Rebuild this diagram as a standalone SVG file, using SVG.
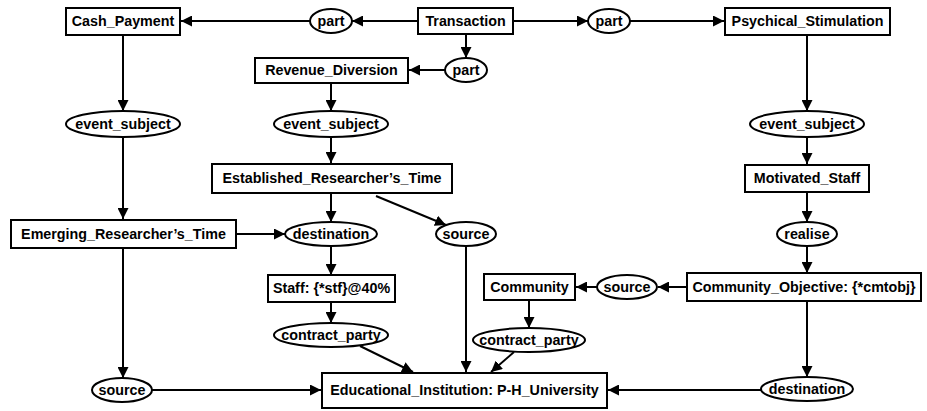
<svg xmlns="http://www.w3.org/2000/svg" width="927" height="411" viewBox="0 0 927 411">
<style>
  .box { fill: #fff; stroke: #000; stroke-width: 2; }
  .ell { fill: #fff; stroke: #000; stroke-width: 2; }
  text { font-family: "Liberation Sans", Arial, Helvetica, sans-serif; font-weight: bold; font-size: 14.3px; text-anchor: middle; fill: #000; }
  .edge { stroke: #000; stroke-width: 2; fill: none; marker-end: url(#arrow); }
</style>
<defs>
  <marker id="arrow" markerUnits="userSpaceOnUse" markerWidth="11" markerHeight="11" refX="11" refY="5.5" orient="auto">
    <path d="M0,0 L11,5.5 L0,11 z" fill="#000"/>
  </marker>
</defs>
<rect width="927" height="411" fill="#fff"/>
<g id="connectors">
  <line class="edge" x1="417" y1="21" x2="352" y2="21"/>
  <line class="edge" x1="310" y1="21" x2="181" y2="21"/>
  <line class="edge" x1="513" y1="21" x2="588" y2="21"/>
  <line class="edge" x1="630" y1="21" x2="724" y2="21"/>
  <line class="edge" x1="466" y1="35" x2="466" y2="58"/>
  <line class="edge" x1="445" y1="70" x2="409" y2="70"/>
  <line class="edge" x1="123" y1="35" x2="123" y2="111"/>
  <line class="edge" x1="331" y1="83" x2="331" y2="111"/>
  <line class="edge" x1="807" y1="35" x2="807" y2="111"/>
  <line class="edge" x1="123" y1="137" x2="123" y2="219"/>
  <line class="edge" x1="331" y1="137" x2="331" y2="163"/>
  <line class="edge" x1="807" y1="137" x2="807" y2="164"/>
  <line class="edge" x1="807" y1="192" x2="807" y2="222"/>
  <line class="edge" x1="331" y1="193" x2="331" y2="222"/>
  <line class="edge" x1="376" y1="196" x2="446" y2="225"/>
  <line class="edge" x1="237" y1="234" x2="285" y2="234"/>
  <line class="edge" x1="331" y1="246" x2="331" y2="275"/>
  <line class="edge" x1="807" y1="246" x2="807" y2="273"/>
  <line class="edge" x1="686" y1="287" x2="658" y2="287"/>
  <line class="edge" x1="597" y1="287" x2="576" y2="287"/>
  <line class="edge" x1="529" y1="300" x2="529" y2="328"/>
  <line class="edge" x1="331" y1="302" x2="331" y2="323"/>
  <line class="edge" x1="360" y1="346" x2="413" y2="372"/>
  <line class="edge" x1="466" y1="246" x2="466" y2="372"/>
  <line class="edge" x1="514" y1="352" x2="491" y2="372"/>
  <line class="edge" x1="123" y1="248" x2="123" y2="378"/>
  <line class="edge" x1="152" y1="390" x2="321" y2="390"/>
  <line class="edge" x1="807" y1="301" x2="807" y2="377"/>
  <line class="edge" x1="761" y1="390" x2="608" y2="390"/>
</g>
<g id="cash_payment"><rect class="box" x="66" y="8" width="114" height="27"/><text x="123" y="26">Cash_Payment</text></g>
<g id="transaction"><rect class="box" x="418" y="8" width="95" height="26"/><text x="465.5" y="26">Transaction</text></g>
<g id="psychical_stimulation"><rect class="box" x="725" y="8" width="165" height="27"/><text x="807.5" y="26">Psychical_Stimulation</text></g>
<g id="part1"><ellipse class="ell" cx="331" cy="21" rx="21" ry="12"/><text x="331" y="26">part</text></g>
<g id="part2"><ellipse class="ell" cx="609" cy="21" rx="21" ry="12"/><text x="609" y="26">part</text></g>
<g id="part3"><ellipse class="ell" cx="466" cy="70" rx="21" ry="12"/><text x="466" y="75">part</text></g>
<g id="revenue_diversion"><rect class="box" x="255" y="58" width="153" height="25"/><text x="331.5" y="75">Revenue_Diversion</text></g>
<g id="event_subject1"><ellipse class="ell" cx="123" cy="124" rx="57" ry="13"/><text x="123" y="129">event_subject</text></g>
<g id="event_subject2"><ellipse class="ell" cx="331" cy="124" rx="57" ry="13"/><text x="331" y="129">event_subject</text></g>
<g id="event_subject3"><ellipse class="ell" cx="807" cy="124" rx="57" ry="13"/><text x="807" y="129">event_subject</text></g>
<g id="established_researchers_time"><rect class="box" x="212" y="164" width="240" height="29"/><text x="332" y="183">Established_Researcher’s_Time</text></g>
<g id="motivated_staff"><rect class="box" x="745" y="165" width="124" height="27"/><text x="807" y="183">Motivated_Staff</text></g>
<g id="emerging_researchers_time"><rect class="box" x="11" y="220" width="225" height="28"/><text x="123.5" y="239">Emerging_Researcher’s_Time</text></g>
<g id="destination1"><ellipse class="ell" cx="331" cy="234" rx="46" ry="12"/><text x="331" y="239">destination</text></g>
<g id="source1"><ellipse class="ell" cx="466" cy="234" rx="30" ry="12"/><text x="466" y="239">source</text></g>
<g id="realise"><ellipse class="ell" cx="807" cy="234" rx="30" ry="12"/><text x="807" y="239">realise</text></g>
<g id="staff"><rect class="box" x="268" y="275" width="127" height="27"/><text x="331.5" y="293">Staff: {*stf}@40%</text></g>
<g id="community"><rect class="box" x="484" y="274" width="91" height="26"/><text x="529.5" y="292">Community</text></g>
<g id="source2"><ellipse class="ell" cx="627" cy="287" rx="30" ry="12"/><text x="627" y="292">source</text></g>
<g id="community_objective"><rect class="box" x="687" y="273" width="234" height="28"/><text x="804" y="292">Community_Objective: {*cmtobj}</text></g>
<g id="contract_party1"><ellipse class="ell" cx="331" cy="335" rx="57" ry="12"/><text x="331" y="340">contract_party</text></g>
<g id="contract_party2"><ellipse class="ell" cx="529" cy="340" rx="56" ry="12"/><text x="529" y="345">contract_party</text></g>
<g id="source3"><ellipse class="ell" cx="122" cy="390" rx="30" ry="12"/><text x="122" y="395">source</text></g>
<g id="educational_institution"><rect class="box" x="322" y="373" width="285" height="35"/><text x="464.5" y="395">Educational_Institution: P-H_University</text></g>
<g id="destination2"><ellipse class="ell" cx="807" cy="389" rx="46" ry="12"/><text x="807" y="394">destination</text></g>
</svg>
